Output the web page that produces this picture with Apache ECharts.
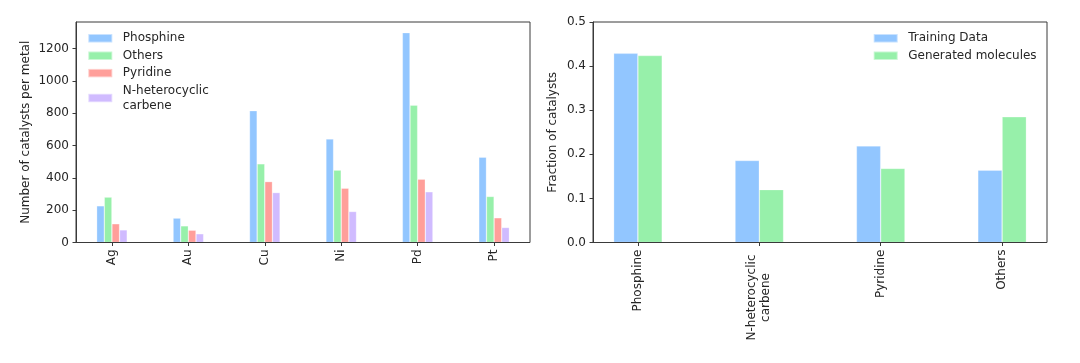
<!DOCTYPE html>
<html>
<head>
<meta charset="utf-8">
<script src="https://cdn.jsdelivr.net/npm/echarts@6/dist/echarts.min.js"></script>
<style>
html,body{margin:0;padding:0;background:#fff;}
#c{width:1080px;height:363px;}
</style>
</head>
<body>
<div id="c"></div>
<script>
// Left chart data
const metals = ['Ag', 'Au', 'Cu', 'Ni', 'Pd', 'Pt'];
const phosphine = [227, 151, 816, 641, 1299, 528];
const others = [281, 103, 487, 448, 850, 285];
const pyridine = [116, 76, 377, 336, 392, 153];
const nhc = [78, 54, 309, 192, 314, 93];
const leftYTicks = [0, 200, 400, 600, 800, 1000, 1200];

// Right chart data
const ligandClasses = ['Phosphine', 'N-heterocyclic carbene', 'Pyridine', 'Others'];
const trainingData = [0.429, 0.186, 0.219, 0.164];
const generatedMolecules = [0.424, 0.120, 0.168, 0.285];
const rightYTicks = [0.0, 0.1, 0.2, 0.3, 0.4, 0.5];

const colors = {blue: '#92c6ff', green: '#97f0aa', red: '#ff9f9a', purple: '#d0bbff'};
const FONT = 'DejaVu Sans';
const FS = 12;
const TXT = '#262626';
const AX = '#3a3a3a';

const chart = echarts.init(document.getElementById('c'), null, {renderer: 'canvas'});

function barSeries(name, data, color, xi) {
  return {
    name: name, type: 'bar', xAxisIndex: xi, yAxisIndex: xi, data: data,
    barGap: '0%', barCategoryGap: '60%',
    itemStyle: {color: color, borderColor: 'rgba(255,255,255,0.45)', borderWidth: 0.6},
    emphasis: {disabled: true}
  };
}

const tickStyle = {show: true, length: 3.5, lineStyle: {color: AX, width: 1}};
const legendText = {fontFamily: FONT, fontSize: FS, color: TXT, lineHeight: 15, padding: [0, 0, 0, 5.5]};

const option = {
  backgroundColor: '#fff',
  animation: false,
  textStyle: {fontFamily: FONT},
  grid: [
    // data grids (category bands, no border)
    {left: 73.7, right: 547.7, top: 22, bottom: 120.5, show: false},
    {left: 577.2, right: 17.2, top: 22, bottom: 120.5, show: false},
    // frame grids (axes boxes)
    {left: 76, right: 550, top: 22, bottom: 120.5, show: true, borderColor: AX, borderWidth: 1, z: 5},
    {left: 593, right: 33, top: 22, bottom: 120.5, show: true, borderColor: AX, borderWidth: 1, z: 5}
  ],
  legend: [
    {
      data: ['Phosphine', 'Others', 'Pyridine', 'N-heterocyclic carbene'],
      orient: 'vertical', left: 87.3, top: 30.8, padding: 0,
      itemWidth: 24, itemHeight: 8.4, itemGap: 2.4, icon: 'rect',
      formatter: n => n === 'N-heterocyclic carbene' ? 'N-heterocyclic\ncarbene' : n,
      textStyle: legendText, selectedMode: false
    },
    {
      data: ['Training Data', 'Generated molecules'],
      orient: 'vertical', left: 872.7, top: 30.8, padding: 0,
      itemWidth: 24, itemHeight: 8.4, itemGap: 2.4, icon: 'rect',
      textStyle: legendText, selectedMode: false
    }
  ],
  xAxis: [
    {
      type: 'category', gridIndex: 0, data: metals,
      axisLine: {show: false}, splitLine: {show: false},
      axisTick: Object.assign({alignWithLabel: true}, tickStyle),
      axisLabel: {rotate: 90, fontFamily: FONT, fontSize: FS, color: TXT, margin: 7}
    },
    {
      type: 'category', gridIndex: 1, data: ligandClasses,
      axisLine: {show: false}, splitLine: {show: false},
      axisTick: Object.assign({alignWithLabel: true}, tickStyle),
      axisLabel: {
        rotate: 90, fontFamily: FONT, fontSize: FS, color: TXT, margin: 7,
        formatter: v => v === 'N-heterocyclic carbene' ? '{c|N-heterocyclic}\n{c|carbene}' : v,
        rich: {c: {fontFamily: FONT, fontSize: FS, color: TXT, width: 96, align: 'center', lineHeight: 14}}
      }
    },
    {type: 'value', gridIndex: 2, show: false},
    {type: 'value', gridIndex: 3, show: false}
  ],
  yAxis: [
    {
      type: 'value', gridIndex: 0, min: 0, max: 1365, interval: 200, offset: -2.3,
      axisLine: {show: true, lineStyle: {color: AX, width: 1}}, splitLine: {show: false},
      axisTick: tickStyle,
      name: 'Number of catalysts per metal', nameLocation: 'middle', nameGap: 44.5,
      nameTextStyle: {fontFamily: FONT, fontSize: FS, color: TXT},
      axisLabel: {fontFamily: FONT, fontSize: FS, color: TXT, margin: 7, showMaxLabel: false,
        formatter: v => leftYTicks.includes(v) ? String(v) : ''}
    },
    {
      type: 'value', gridIndex: 1, min: 0, max: 0.5, interval: 0.1, offset: -15.8,
      axisLine: {show: true, lineStyle: {color: AX, width: 1}}, splitLine: {show: false},
      axisTick: tickStyle,
      name: 'Fraction of catalysts', nameLocation: 'middle', nameGap: 34,
      nameTextStyle: {fontFamily: FONT, fontSize: FS, color: TXT},
      axisLabel: {fontFamily: FONT, fontSize: FS, color: TXT, margin: 7,
        formatter: v => { const t = rightYTicks.find(x => Math.abs(x - v) < 1e-9); return t === undefined ? '' : t.toFixed(1); }}
    },
    {type: 'value', gridIndex: 2, show: false},
    {type: 'value', gridIndex: 3, show: false}
  ],
  series: [
    barSeries('Phosphine', phosphine, colors.blue, 0),
    barSeries('Others', others, colors.green, 0),
    barSeries('Pyridine', pyridine, colors.red, 0),
    barSeries('N-heterocyclic carbene', nhc, colors.purple, 0),
    barSeries('Training Data', trainingData, colors.blue, 1),
    barSeries('Generated molecules', generatedMolecules, colors.green, 1)
  ]
};
chart.setOption(option);
</script>
</body>
</html>
